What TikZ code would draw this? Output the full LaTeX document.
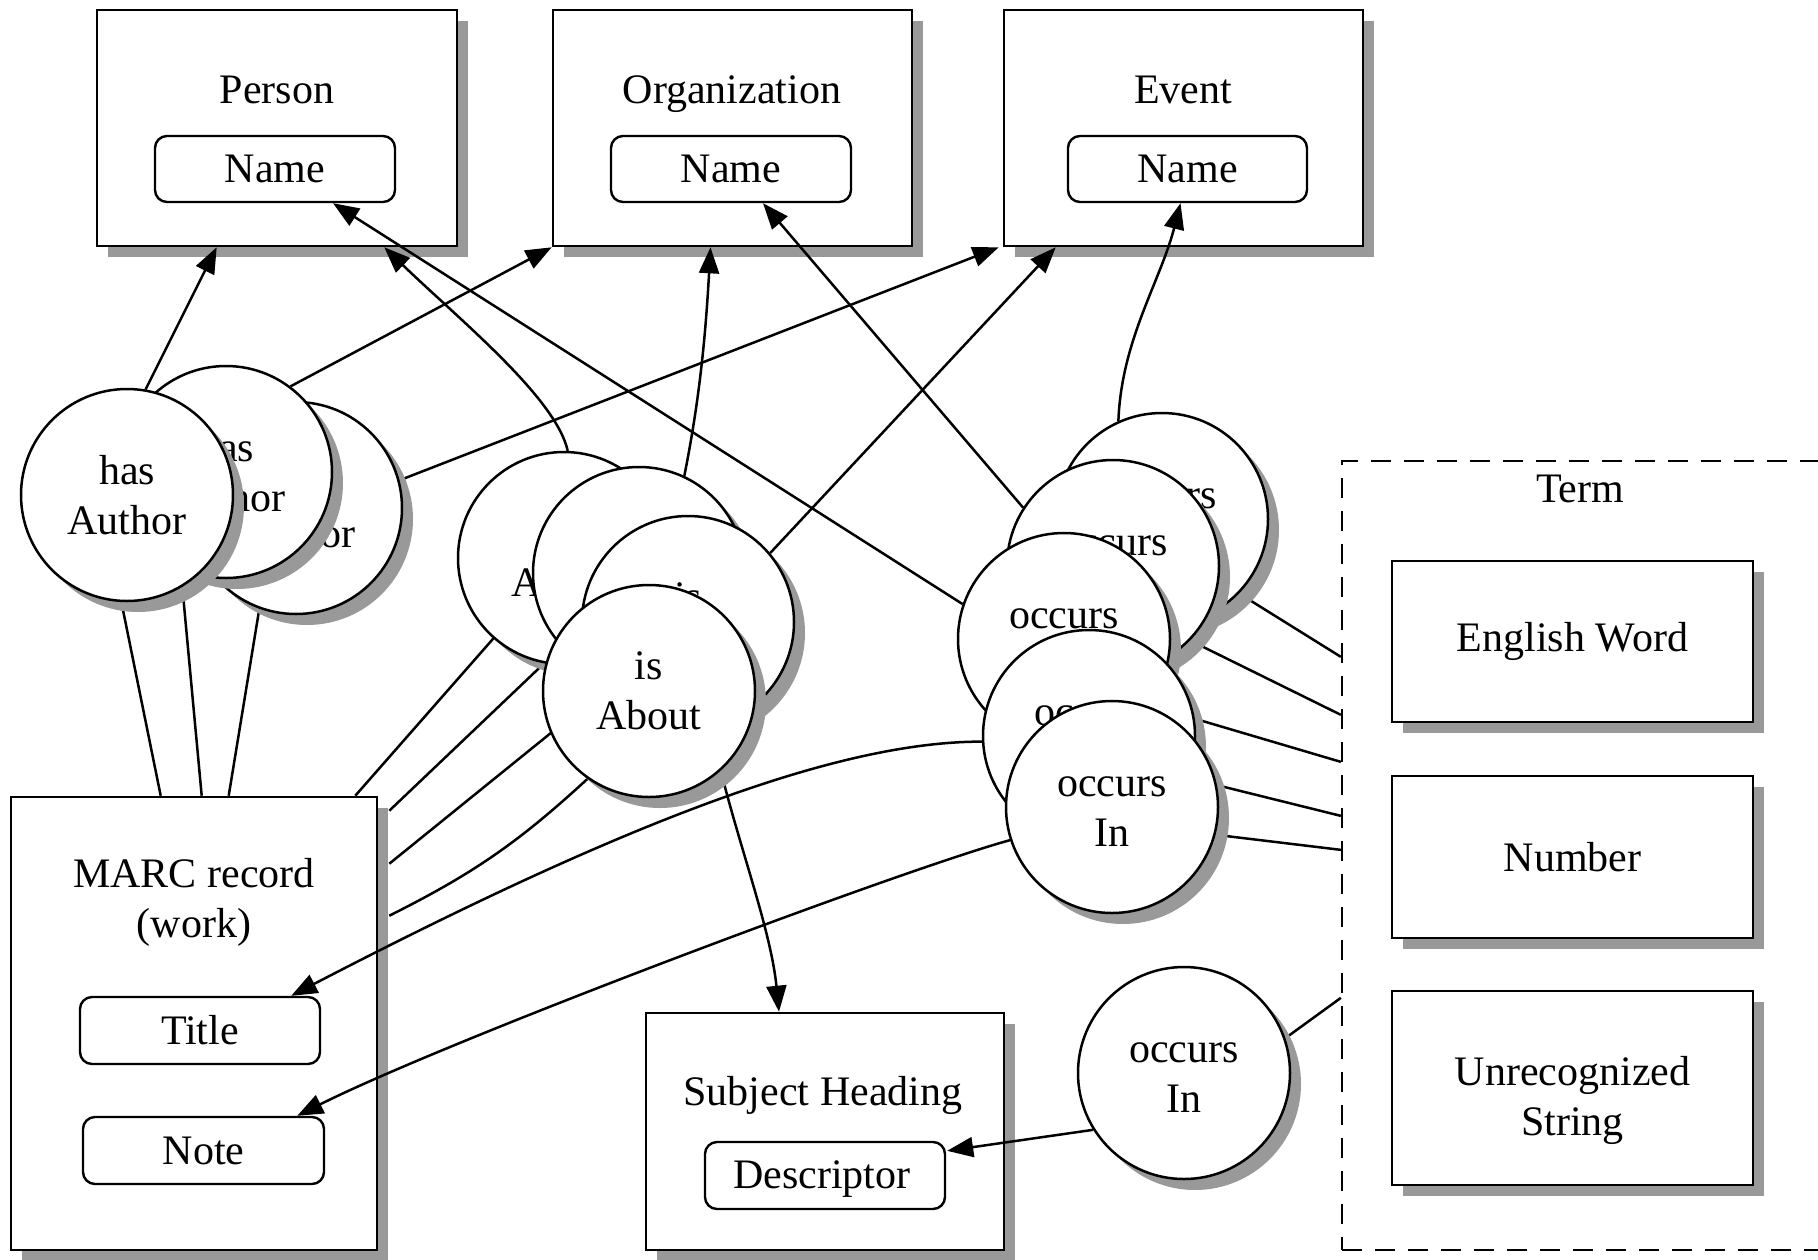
\documentclass[tikz,border=0pt]{standalone}
\usepackage{fontspec}
\setmainfont{Liberation Serif}
\usetikzlibrary{shadows,arrows.meta,calc}
\pgfdeclarelayer{bg}
\pgfdeclarelayer{mid}
\pgfsetlayers{bg,mid,main}
\begin{document}
\begin{tikzpicture}[x=1pt,y=-1pt,
  every node/.style={font=\fontsize{42}{50}\selectfont},
  shad/.style={drop shadow={shadow xshift=11pt,shadow yshift=-11pt,fill=black!40,opacity=1}},
  box/.style 2 args={draw,line width=2.6pt,fill=white,shad,minimum width=#1,minimum height=#2,inner sep=0pt},
  field/.style 2 args={draw,line width=2.4pt,fill=white,rounded corners=12pt,minimum width=#1,minimum height=#2,inner sep=0pt},
  rel/.style={circle,draw,line width=2.5pt,fill=white,shad,minimum size=212pt,inner sep=0pt,align=center},
  lbl/.style={anchor=base,inner sep=0pt,align=center},
  conn/.style={line width=2.5pt},
  arr/.style={conn,-{Triangle[length=26pt,width=20pt]}},
  group/.style={draw,line width=2.3pt,dash pattern=on 20pt off 13pt,minimum width=488pt,minimum height=789pt,inner sep=0pt}
]
\useasboundingbox (0,0) rectangle (1818,1259);

\begin{pgfonlayer}{bg}
\fill[white] (0,0) rectangle (1818,1259);
% top entity boxes
\node[box={360pt}{236pt}] (person) at (277,128) {};
\node[lbl] (personlbl) at (277,103) {Person};
\node[field={240pt}{66pt}] (pname) at (275,169) {Name};
\node[box={359pt}{236pt}] (org) at (732.5,128) {};
\node[lbl] (orglbl) at (732,103) {Organization};
\node[field={240pt}{66pt}] (oname) at (731,169) {Name};
\node[box={359pt}{236pt}] (event) at (1183.5,128) {};
\node[lbl] (eventlbl) at (1183,103) {Event};
\node[field={239pt}{66pt}] (ename) at (1187.5,169) {Name};
% MARC record
\node[box={366pt}{453pt}] (marc) at (194,1023.5) {};
\node[lbl] (marclbl) at (194,937) {MARC record\\(work)};
\node[field={240pt}{67pt}] (title) at (200,1030.5) {Title};
\node[field={241pt}{67pt}] (note) at (203.5,1150.5) {Note};
% Subject heading
\node[box={358pt}{237pt}] (subj) at (825,1131.5) {};
\node[lbl] (subjlbl) at (823,1105) {Subject Heading};
\node[field={240pt}{67pt}] (desc) at (825,1175.5) {};
\node[lbl] (desclbl) at (822,1188) {Descriptor};
% Term group
\node[group] (term) at (1586,855.5) {};
\node[lbl] (termlbl) at (1580,502) {Term};
\node[box={361pt}{161pt}] (eng) at (1572.5,641.5) {English Word};
\node[box={361pt}{162pt}] (num) at (1572.5,857) {Number};
\node[box={361pt}{194pt}] (unr) at (1572.5,1088) {};
\node[lbl] (unrlbl) at (1572.5,1135) {Unrecognized\\String};
\end{pgfonlayer}

% relation circles (back to front)
\node[rel] (hA3) at (296,508) {has\\Author};
\node[rel] (hA2) at (226,472) {has\\Author};
\node[rel] (hA1) at (127,495) {has\\Author};
\node[rel] (iA1) at (564,558) {is\\About};
\node[rel] (iA2) at (639,573) {is\\About};
\node[rel] (iA3) at (688,622) {is\\About};
\node[rel] (iA4) at (649,691) {is\\About};
\node[rel] (oI1) at (1162,519) {occurs\vphantom{h}\\In};
\node[rel] (oI2) at (1113,566) {occurs\vphantom{h}\\In};
\node[rel] (oI3) at (1064,639) {occurs\vphantom{h}\\In};
\node[rel] (oI4) at (1089,736) {occurs\vphantom{h}\\In};
\node[rel] (oI5) at (1112,807) {occurs\vphantom{h}\\In};
\node[rel] (oI6) at (1184,1073) {occurs\vphantom{h}\\In};

\begin{pgfonlayer}{mid}
% has Author
\draw[arr] (hA1.80) -- ($(person.south west)+(121,0)$);
\draw[arr] (hA2.53) -- (org.south west);
\draw[arr] (hA3.15) -- ($(event.south west)+(-4,0)$);
\draw[conn] (hA1.-93) -- ($(marc.north west)+(151,0)$);
\draw[conn] (hA2.-115) -- ($(marc.north west)+(192,0)$);
\draw[conn] (hA3.-110) -- ($(marc.north west)+(219,0)$);
% is About
\draw[arr] (iA1.88) .. controls +(-12,-53) and +(77,74) .. ($(person.south east)+(-74,0)$);
\draw[arr] (iA2.65) .. controls +(15,-75) and +(-5,90) .. ($(org.south)+(-22,0)$);
\draw[arr] (iA3.40) -- ($(event.south west)+(53,0)$);
\draw[arr] (iA4.-48) .. controls +(20,80) and +(-8,-80) .. ($(subj.north)+(-46,0)$);
\draw[conn] ($(marc.north east)+(-23,0)$) -- (iA1.center);
\draw[conn] ($(marc.north east)+(11,15)$) -- (iA2.center);
\draw[conn] ($(marc.north east)+(11,68)$) -- (iA3.center);
\draw[conn] ($(marc.north east)+(11,120)$) to[bend right=8] (iA4.235);
% occurs In
\draw[arr] (oI1.114) .. controls +(3,-81) and +(-20,78) .. ($(ename.south)+(-7,0)$);
\draw[arr] (oI2.147) -- ($(oname.south)+(32,0)$);
\draw[arr] (oI3.161) -- ($(pname.south)+(58,0)$);
\draw[arr] (oI4.183) .. controls +(-133,0) and +(360,-187) .. ($(title.north east)+(-30,0)$);
\draw[arr] (oI5.198) .. controls +(-109,30) and +(154,-77) .. ($(note.north east)+(-28,0)$);
\draw[arr] (oI6.212) -- ($(desc.north east)+(1,10)$);
\draw[conn] (oI1.-44) -- ($(term.north west)+(0,197)$);
\draw[conn] (oI2.-44) -- ($(term.north west)+(0,255)$);
\draw[conn] (oI3.-38) -- ($(term.north west)+(0,302)$);
\draw[conn] (oI4.-23) -- ($(term.north west)+(0,356)$);
\draw[conn] (oI5.-15) -- ($(term.north west)+(0,390)$);
\draw[conn] (oI6.19) -- ($(term.north west)+(0,538)$);
\end{pgfonlayer}
\end{tikzpicture}
\end{document}
